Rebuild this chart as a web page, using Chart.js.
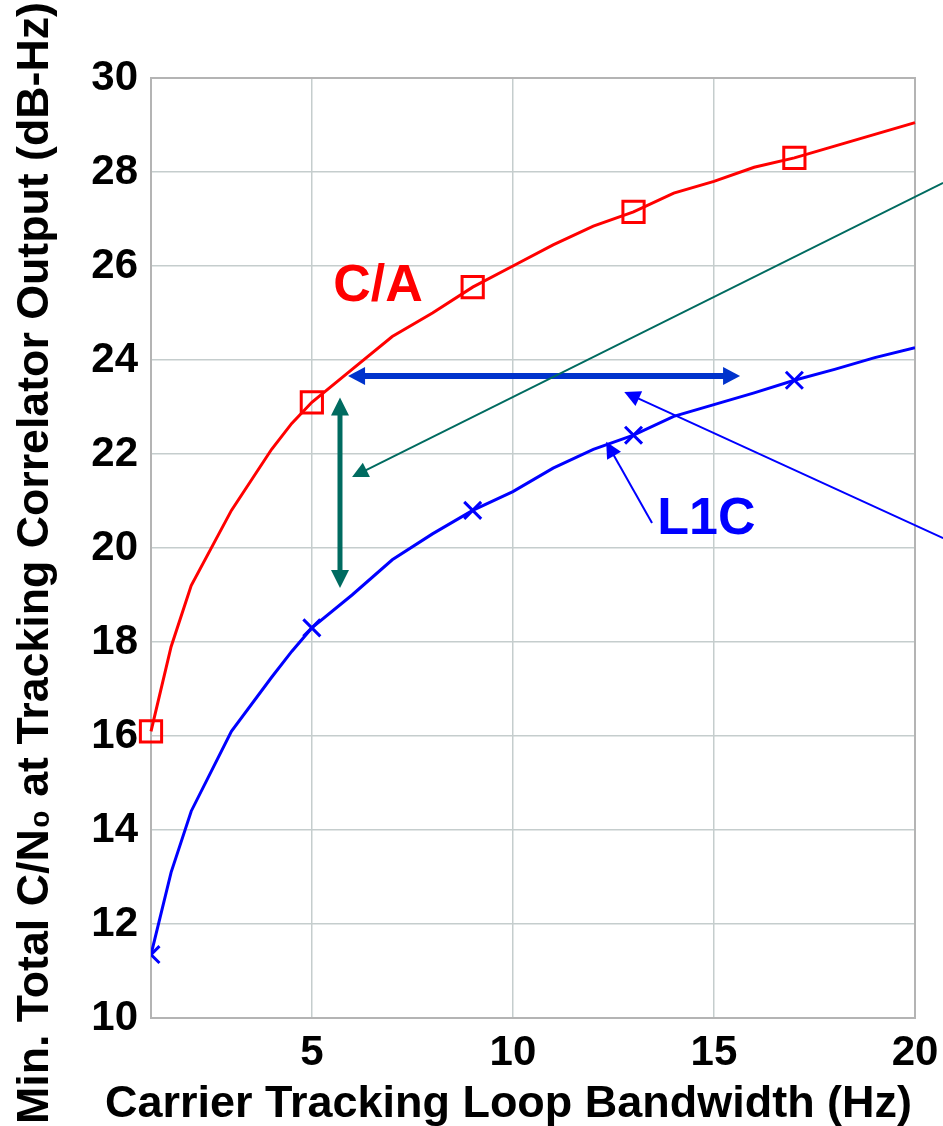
<!DOCTYPE html>
<html>
<head>
<meta charset="utf-8">
<script src="https://cdn.jsdelivr.net/npm/chart.js@4.4.1/dist/chart.umd.min.js"></script>
<style>
html, body { margin: 0; padding: 0; background: #fff; }
#wrap { width: 943px; height: 1126px; }
</style>
</head>
<body>
<div id="wrap"><canvas id="cnChart"></canvas></div>
<script>
// loop bandwidth (Hz) and minimum C/N0 (dB-Hz)
var bandwidth = [1, 1.5, 2, 3, 4, 4.5, 5, 6, 7, 8, 9, 10, 11, 12, 13, 14, 15, 16, 17, 18, 19, 20];
var caValues = [16.1, 17.9, 19.2, 20.8, 22.1, 22.65, 23.1, 23.8, 24.5, 25.0, 25.55, 26.0, 26.45, 26.85, 27.15, 27.55, 27.8, 28.1, 28.3, 28.55, 28.8, 29.05];
var l1cValues = [11.35, 13.1, 14.4, 16.1, 17.25, 17.8, 18.3, 19.0, 19.75, 20.3, 20.8, 21.2, 21.7, 22.1, 22.4, 22.8, 23.05, 23.3, 23.57, 23.8, 24.05, 24.26];
var markerAt = [1, 5, 9, 13, 17];
var xTicks = [5, 10, 15, 20];
var xTitle = 'Carrier Tracking Loop Bandwidth (Hz)';
var yTitle = 'Min. Total C/N\u2080 at Tracking Correlator Output (dB-Hz)';

// annotation arrows, in data units
var arrows = [
    { from: [5.9, 23.66], to: [15.65, 23.66], color: '#0033cc', width: 6, head: 17, half: 9, both: true },
    { from: [5.7, 23.2], to: [5.7, 19.15], color: '#006b60', width: 5, head: 18, half: 9, both: true },
    { from: [20.7, 27.77], to: [6.0, 21.51], color: '#006b60', width: 2, head: 16, half: 8, both: false },
    { from: [20.7, 20.21], to: [12.77, 23.32], color: '#0000ff', width: 2, head: 16, half: 8, both: false },
    { from: [13.46, 20.53], to: [12.32, 22.26], color: '#0000ff', width: 2, head: 16, half: 8, both: false }
];
var seriesLabels = [
    { text: 'C/A', at: [5.53, 25.55], color: '#ff0000' },
    { text: 'L1C', at: [13.59, 20.6], color: '#0000ff' }
];

var fontFamily = '"Liberation Sans", Arial, sans-serif';

function toPoints(vals) {
    return bandwidth.map(function(b, i) { return { x: b, y: vals[i] }; });
}
function markerRadius(r) {
    return bandwidth.map(function(b) { return markerAt.indexOf(b) >= 0 ? r : 0; });
}

function drawHead(ctx, tx, ty, fx, fy, len, half) {
    var ang = Math.atan2(ty - fy, tx - fx);
    ctx.beginPath();
    ctx.moveTo(tx, ty);
    ctx.lineTo(tx - len * Math.cos(ang) + half * Math.sin(ang), ty - len * Math.sin(ang) - half * Math.cos(ang));
    ctx.lineTo(tx - len * Math.cos(ang) - half * Math.sin(ang), ty - len * Math.sin(ang) + half * Math.cos(ang));
    ctx.closePath();
    ctx.fill();
}

// text stretched to a given span, centred on (cx, cy) along its run
function drawSpanText(ctx, text, cx, cy, span, rot) {
    ctx.save();
    ctx.translate(cx, cy);
    ctx.rotate(rot);
    var w = ctx.measureText(text).width;
    ctx.scale(span / w, 1);
    ctx.textAlign = 'center';
    ctx.textBaseline = 'alphabetic';
    ctx.fillText(text, 0, 0);
    ctx.restore();
}

var overlay = {
    id: 'overlay',
    beforeDatasetsDraw: function(chart) {
        var ctx = chart.ctx, a = chart.chartArea;
        ctx.save();
        ctx.strokeStyle = '#b4b4b4';
        ctx.lineWidth = 2;
        ctx.strokeRect(a.left, a.top, a.right - a.left, a.bottom - a.top);
        ctx.restore();
    },
    afterDatasetsDraw: function(chart) {
        var ctx = chart.ctx, xs = chart.scales.x, ys = chart.scales.y, a = chart.chartArea;
        ctx.save();
        arrows.forEach(function(ar) {
            var x1 = xs.getPixelForValue(ar.from[0]), y1 = ys.getPixelForValue(ar.from[1]);
            var x2 = xs.getPixelForValue(ar.to[0]), y2 = ys.getPixelForValue(ar.to[1]);
            var d = Math.hypot(x2 - x1, y2 - y1), ux = (x2 - x1) / d, uy = (y2 - y1) / d;
            var sx = ar.both ? x1 + ux * ar.head * 0.8 : x1, sy = ar.both ? y1 + uy * ar.head * 0.8 : y1;
            ctx.strokeStyle = ar.color;
            ctx.fillStyle = ar.color;
            ctx.lineWidth = ar.width;
            ctx.beginPath();
            ctx.moveTo(sx, sy);
            ctx.lineTo(x2 - ux * ar.head * 0.8, y2 - uy * ar.head * 0.8);
            ctx.stroke();
            drawHead(ctx, x2, y2, x1, y1, ar.head, ar.half);
            if (ar.both) drawHead(ctx, x1, y1, x2, y2, ar.head, ar.half);
        });
        ctx.font = 'bold 52px ' + fontFamily;
        ctx.textBaseline = 'middle';
        ctx.textAlign = 'left';
        seriesLabels.forEach(function(l) {
            ctx.fillStyle = l.color;
            ctx.fillText(l.text, xs.getPixelForValue(l.at[0]), ys.getPixelForValue(l.at[1]));
        });

        // axis titles
        ctx.fillStyle = '#000';
        ctx.font = 'bold 45px ' + fontFamily;
        var xl = a.left - 46, xr = a.right - 3;
        drawSpanText(ctx, xTitle, (xl + xr) / 2, a.bottom + 99, xr - xl, 0);
        ctx.font = 'bold 44px ' + fontFamily;
        drawSpanText(ctx, yTitle, a.left - 103, chart.height / 2, 1122, -Math.PI / 2);
        ctx.restore();
    }
};

var tickFont = { family: fontFamily, size: 42, weight: 'bold' };

var ctx = document.getElementById('cnChart').getContext('2d');
var chart = new Chart(ctx, {
    type: 'line',
    data: {
        datasets: [{
            label: 'C/A',
            data: toPoints(caValues),
            borderColor: '#ff0000',
            borderWidth: 3,
            pointStyle: 'rect',
            pointRadius: markerRadius(15),
            pointBorderWidth: 3,
            pointBorderColor: '#ff0000',
            pointBackgroundColor: 'rgba(0,0,0,0)',
            tension: 0,
            clip: false
        }, {
            label: 'L1C',
            data: toPoints(l1cValues),
            borderColor: '#0000ff',
            borderWidth: 3,
            pointStyle: 'crossRot',
            pointRadius: markerRadius(12),
            pointBorderWidth: 3,
            pointBorderColor: '#0000ff',
            tension: 0
        }]
    },
    options: {
        responsive: true,
        maintainAspectRatio: false,
        animation: false,
        layout: { padding: { top: 78, right: 0, left: 0, bottom: 0 } },
        plugins: {
            legend: { display: false },
            tooltip: { enabled: false }
        },
        scales: {
            x: {
                type: 'linear',
                min: 1,
                max: 20,
                afterBuildTicks: function(s) {
                    s.ticks = xTicks.map(function(v) { return { value: v }; });
                },
                afterFit: function(s) {
                    s.height = 108;
                    s.paddingLeft = 0;
                    s.paddingRight = 28;
                },
                grid: { color: '#c5cdcd', lineWidth: 1.5, drawTicks: false },
                border: { color: '#b4b4b4', width: 2 },
                ticks: { color: '#000', font: tickFont, padding: 10, maxRotation: 0 },
                title: { display: false }
            },
            y: {
                min: 10,
                max: 30,
                afterFit: function(s) { s.width = 151; },
                grid: { color: '#c5cdcd', lineWidth: 1.5, drawTicks: false },
                border: { color: '#b4b4b4', width: 2 },
                ticks: { color: '#000', font: tickFont, stepSize: 2, padding: 13 },
                title: { display: false }
            }
        }
    },
    plugins: [overlay]
});
</script>
</body>
</html>
